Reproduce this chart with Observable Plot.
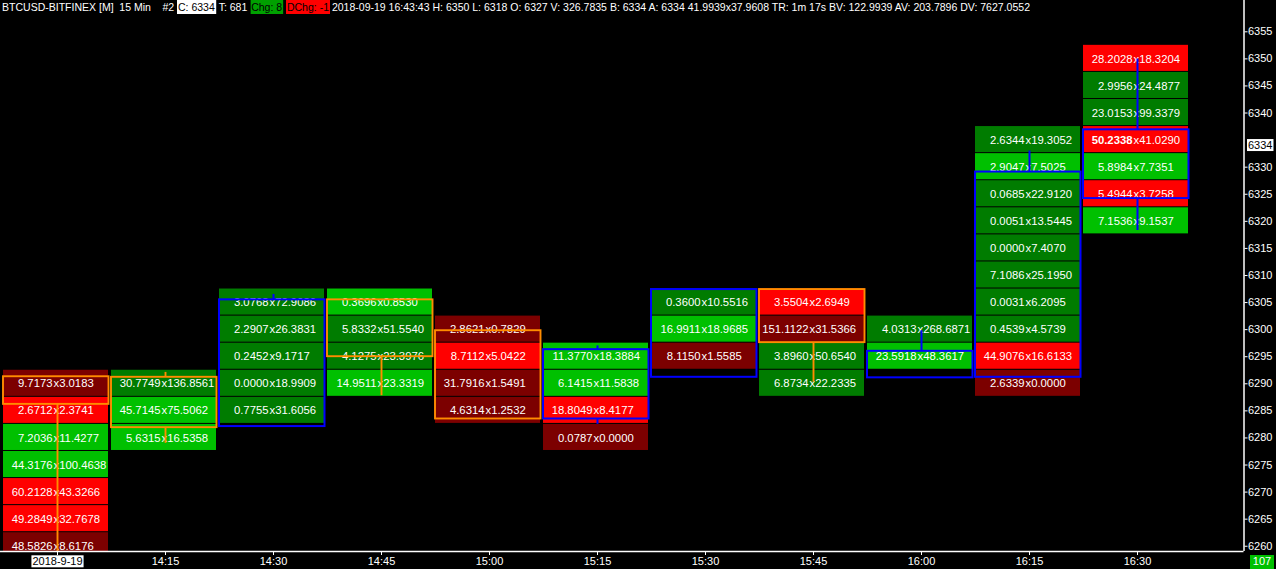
<!DOCTYPE html>
<html><head><meta charset="utf-8">
<script src="https://cdn.jsdelivr.net/npm/d3@7"></script>
<script src="https://cdn.jsdelivr.net/npm/@observablehq/plot@0.6"></script>
<style>
html,body{margin:0;padding:0;background:#000;overflow:hidden}
#wrap{position:relative;width:1276px;height:569px;background:#000}
#hdr{position:absolute;left:2px;top:0;height:14px;font:11px "Liberation Sans",Arial,sans-serif;color:#fff;white-space:nowrap;display:flex;transform-origin:left top}
#hdr span{display:inline-block;height:14px;line-height:14px;}
#cnt{position:absolute;left:1250px;top:555px;width:24px;height:14px;line-height:14px;background:#00c000;color:#fff;font:11px "Liberation Sans",Arial,sans-serif;text-align:center}
</style></head>
<body><div id="wrap"><div id="chart"></div><div id="hdr"></div><div id="cnt"></div></div>
<script>
// ---- data ----
const xLabels = ["2018-9-19","14:15","14:30","14:45","15:00","15:15","15:30","15:45","16:00","16:15","16:30"];
const yTicks = [6260,6265,6270,6275,6280,6285,6290,6295,6300,6305,6310,6315,6320,6325,6330,6340,6345,6350,6355];
const lastPrice = 6334;
const barCount = "107";
const headerParts = ["BTCUSD-BITFINEX [M]","15 Min","#2","C: 6334","T: 681","Chg: 8","DChg: -1",
  "2018-09-19 16:43:43 H: 6350 L: 6318 O: 6327 V: 326.7835 B: 6334 A: 6334 41.9939x37.9608 TR: 1m 17s BV: 122.9939 AV: 203.7896 DV: 7627.0552"];

const colPrices = [
  [6290,6285,6280,6275,6270,6265,6260],
  [6290,6285,6280],
  [6305,6300,6295,6290,6285],
  [6305,6300,6295,6290],
  [6300,6295,6290,6285],
  [6295,6290,6285,6280],
  [6305,6300,6295],
  [6305,6300,6295,6290],
  [6300,6295],
  [6335,6330,6325,6320,6315,6310,6305,6300,6295,6290],
  [6350,6345,6340,6335,6330,6325,6320]
];
const colBids = [
  [9.7173,2.6712,7.2036,44.3176,60.2128,49.2849,48.5826],
  [30.7749,45.7145,5.6315],
  [3.0768,2.2907,0.2452,0.0000,0.7755],
  [0.3696,5.8332,4.1275,14.9511],
  [2.8621,8.7112,31.7916,4.6314],
  [11.3770,6.1415,18.8049,0.0787],
  [0.3600,16.9911,8.1150],
  [3.5504,151.1122,3.8960,6.8734],
  [4.0313,23.5918],
  [2.6344,2.9047,0.0685,0.0051,0.0000,7.1086,0.0031,0.4539,44.9076,2.6339],
  [28.2028,2.9956,23.0153,50.2338,5.8984,5.4944,7.1536]
];
const colAsks = [
  [3.0183,2.3741,11.4277,100.4638,43.3266,32.7678,8.6176],
  [136.8561,75.5062,16.5358],
  [72.9086,26.3831,9.1717,18.9909,31.6056],
  [0.8530,51.5540,23.3976,23.3319],
  [0.7829,5.0422,1.5491,1.2532],
  [18.3884,11.5838,8.4177,0.0000],
  [10.5516,18.9685,1.5585],
  [2.6949,31.5366,50.6540,22.2335],
  [268.6871,48.3617],
  [19.3052,7.5025,22.9120,13.5445,7.4070,25.1950,6.2095,4.5739,16.6133,0.0000],
  [18.3204,24.4877,99.3379,41.0290,7.7351,3.7258,9.1537]
];
const candleOpen  = [6291.3,6291.2,6282.1,6305.5,6299.8,6283.5,6291.2,6307.4,6291.1,6291.2,6324.2];
const candleClose = [6286.2,6281.9,6305.5,6295.0,6283.5,6296.3,6307.4,6297.6,6296.0,6329.1,6336.9];
const candleHigh  = [6291.3,6292.1,6306.5,6305.5,6299.8,6297.0,6307.4,6307.4,6299.8,6333.0,6350.0];
const candleLow   = [6258.5,6279.0,6282.1,6287.8,6283.5,6282.5,6291.2,6290.3,6291.1,6291.2,6318.3];

// ---- tables ----
const bucket = 5, half = bucket / 2;
const cells = [];
colPrices.forEach((ps, i) => ps.forEach((p, j) => cells.push({i, price: p, bid: colBids[i][j], ask: colAsks[i][j]})));
const lastCol = colPrices.length - 1;
const isBold = d => d.i === lastCol && Math.abs(d.price - lastPrice) <= half;
function imbalance(d) {
  const hi = Math.max(d.bid, d.ask), lo = Math.min(d.bid, d.ask);
  const strong = lo === 0 ? true : hi / lo >= 3;
  return (d.ask > d.bid ? "buy" : "sell") + (strong ? "-strong" : "-weak");
}
const candles = candleOpen.map((o, i) => ({i, open: o, close: candleClose[i], high: candleHigh[i], low: candleLow[i]}));
const dir = d => d.close >= d.open ? "up" : "down";
const fmt = d3.format(".4f");

// ---- layout ----
const W = 1276, H = 569, mR = 32.5, mB = 18;
const slotPx = 108, firstPx = 57, plotW = W - mR;
const xDomain = [-firstPx / slotPx, (plotW - firstPx) / slotPx];
const yDomain = [6259.03, 6360.78];
const font = "Liberation Sans, Arial, sans-serif";

function candleMarks(kind, sw) {
  const f = d => dir(d) === kind;
  return [
    Plot.rect(candles, {filter: f, x1: d => d.i - 0.5, x2: d => d.i + 0.5, y1: "open", y2: "close", fill: "none", stroke: dir, strokeWidth: sw, insetRight: 2.5, clip: true}),
    Plot.ruleX(candles, {filter: f, x: "i", y1: d => Math.max(d.open, d.close), y2: "high", stroke: dir, strokeWidth: sw, clip: true}),
    Plot.ruleX(candles, {filter: f, x: "i", y1: d => Math.min(d.open, d.close), y2: "low", stroke: dir, strokeWidth: sw, clip: true})
  ];
}

const chart = Plot.plot({
  width: W, height: H,
  marginLeft: 0, marginRight: mR, marginTop: 0, marginBottom: mB,
  style: {background: "#000", color: "#fff", fontSize: "11px", fontFamily: font},
  x: {type: "linear", domain: xDomain, axis: null},
  y: {type: "linear", domain: yDomain, axis: null},
  color: {type: "ordinal",
    domain: ["sell-strong","sell-weak","buy-weak","buy-strong","up","down"],
    range: ["#7c0000","#ff0000","#00c000","#007c00","#0000ff","#ff8c00"]},
  marks: [
    Plot.rect(cells, {x1: d => d.i - 0.5, x2: d => d.i + 0.5, y1: d => d.price - half, y2: d => d.price + half,
      fill: imbalance, insetRight: 3, insetBottom: 1, clip: true}),
    Plot.text(cells, {filter: d => !isBold(d), x: "i", y: "price", text: d => fmt(d.bid), textAnchor: "end", dx: -5, fill: "#fff", fontSize: 11.3, clip: true}),
    Plot.text(cells, {filter: isBold, x: "i", y: "price", text: d => fmt(d.bid), textAnchor: "end", dx: -5, fill: "#fff", fontSize: 11.3, fontWeight: "bold", clip: true}),
    Plot.text(cells, {x: "i", y: "price", text: d => "x" + fmt(d.ask), textAnchor: "start", dx: -4, fill: "#fff", fontSize: 11.3, clip: true}),
    ...candleMarks("up", 2),
    ...candleMarks("down", 1.9),
    Plot.ruleY([yDomain[0]], {stroke: "#fff", strokeWidth: 1.5}),
    Plot.ruleX([xDomain[1]], {stroke: "#fff", strokeWidth: 1.5}),
    Plot.axisY(yTicks, {anchor: "right", tickSize: 3, tickPadding: 1, fontSize: 11, label: null, stroke: "#fff", fill: "#fff", tickFormat: d3.format("d")}),
    Plot.axisX(xLabels.map((_, i) => i), {anchor: "bottom", tickSize: 4, tickPadding: 2, fontSize: 11, label: null,
      tickFormat: i => xLabels[i], stroke: "#fff", fill: "#fff"}),
    Plot.text([lastPrice], {x: xDomain[1], y: d => d, text: d => String(d), textAnchor: "start", dx: 4, fill: "#000", fontSize: 11})
  ]
});
document.getElementById("chart").appendChild(chart);

// white label boxes behind the current price and the first date
function boxBehind(textEl, padX, padY) {
  const b = textEl.getBBox();
  const r = document.createElementNS("http://www.w3.org/2000/svg", "rect");
  r.setAttribute("x", b.x - padX); r.setAttribute("y", b.y - padY);
  r.setAttribute("width", b.width + 2 * padX); r.setAttribute("height", b.height + 2 * padY);
  r.setAttribute("fill", "#fff");
  const tr = textEl.getAttribute("transform");
  if (tr) r.setAttribute("transform", tr);
  textEl.parentNode.insertBefore(r, textEl);
}
const allTexts = Array.from(chart.querySelectorAll("text"));
const lp = allTexts.find(t => t.textContent === String(lastPrice));
if (lp) boxBehind(lp, 1, 0);
const xt = allTexts.find(t => t.textContent === xLabels[0]);
if (xt) { boxBehind(xt, 1, 0); xt.setAttribute("fill", "#000"); xt.style.fill = "#000"; }

// header
const hdr = document.getElementById("hdr");
const partStyle = [
  {ml: 0}, {ml: 6}, {ml: 12}, {ml: 3, bg: "#fff", fg: "#000"}, {ml: 3}, {ml: 3, bg: "#00a000", fg: "#000"},
  {ml: 3, bg: "#ff0000", fg: "#000"}, {ml: 2}
];
headerParts.forEach((t, k) => {
  const s = document.createElement("span");
  const st = partStyle[k];
  s.textContent = t;
  s.style.marginLeft = st.ml + "px";
  s.style.color = st.fg || "#fff";
  if (st.bg) { s.style.background = st.bg; s.style.padding = "0 1px"; }
  hdr.appendChild(s);
});
const natural = hdr.scrollWidth;
hdr.style.transform = `scaleX(${1028 / natural})`;
document.getElementById("cnt").textContent = barCount;
</script>
</body></html>
